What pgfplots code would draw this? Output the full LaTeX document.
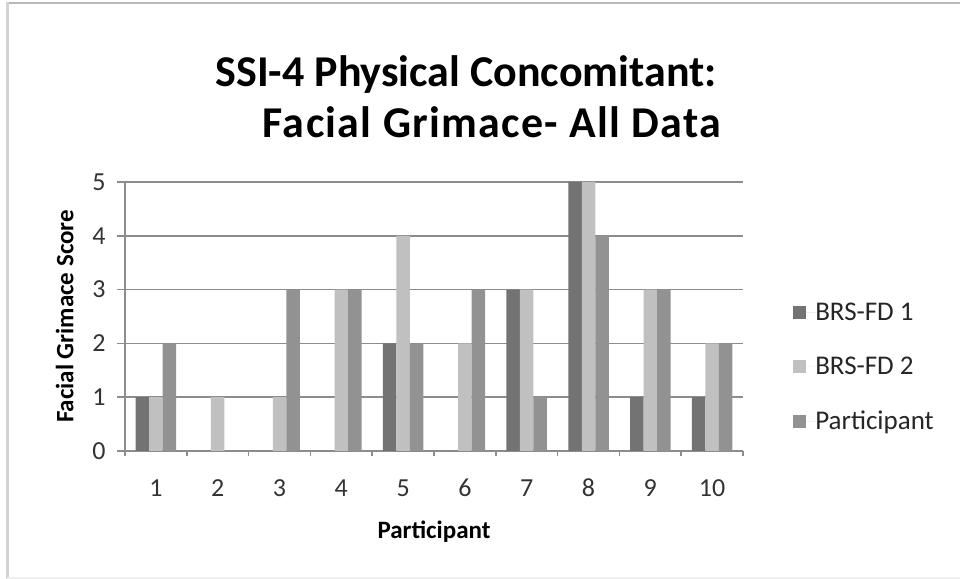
\documentclass[border=0pt]{standalone}
\usepackage{pgfplots}
\pgfplotsset{compat=1.18}
\usepackage{fontspec}
\setmainfont{Carlito}
\definecolor{cA}{HTML}{737373}
\definecolor{cB}{HTML}{C0C0C0}
\definecolor{cC}{HTML}{929292}
\definecolor{gridc}{HTML}{8C8C8C}
\begin{document}
\begin{tikzpicture}[x=1bp,y=1bp]
\useasboundingbox (0,0) rectangle (960,579);
\draw[gray!55, line width=2bp] (7,576) -- (960,576);
\draw[gray!35, line width=3bp] (7,0) -- (7,577);
\draw[gray!12, line width=1.5bp] (7,1) -- (960,1);
\node[font=\fontsize{44bp}{50bp}\selectfont\bfseries] at (466,504) {SSI-4 Physical Concomitant:};
\node[font=\fontsize{44bp}{50bp}\selectfont\bfseries\addfontfeatures{LetterSpace=3}] at (492,457) {Facial Grimace- All Data};
\begin{axis}[
  at={(125bp,128bp)}, anchor=south west,
  scale only axis, width=618bp, height=269bp,
  xmin=0.5, xmax=10.5, ymin=0, ymax=5,
  axis lines*=left,
  axis line style={gridc, line width=1.5bp},
  ybar=0pt, bar width=13.5bp,
  xtick={1,...,10},
  minor xtick={0.5,1.5,...,10.5},
  major x tick style={draw=none},
  minor x tick style={gridc, line width=1.5bp},
  ytick={0,...,5},
  y tick style={gridc, line width=1.5bp},
  tick align=outside,
  major tick length=8bp, minor tick length=5bp,
  ymajorgrids, grid style={gridc, line width=1.5bp},
  tick label style={font=\fontsize{26bp}{30bp}\selectfont, text=black!80},
  /pgf/number format/assume math mode=true,
  xticklabel style={text height=17bp, text depth=0bp, yshift=-17bp},
  yticklabel style={xshift=-8bp},
  xlabel={\bfseries Participant},
  ylabel={\bfseries Facial Grimace Score},
  label style={font=\fontsize{25bp}{30bp}\selectfont},
  xlabel style={yshift=-18bp},
  ylabel style={yshift=12bp},
  legend style={at={(1.081,0.312)}, anchor=west, draw=none,
    font=\fontsize{27bp}{32bp}\selectfont, text=black!85,
    row sep=35bp, inner sep=0pt, nodes={inner sep=0pt}},
  legend image code/.code={\fill[#1] (0bp,-6.5bp) rectangle (13bp,6.5bp); \path (0bp,0bp) -- (22bp,0bp);},
  legend cell align=left,
]
\addplot[fill=cA, draw=none] coordinates {(1,1) (2,0) (3,0) (4,0) (5,2) (6,0) (7,3) (8,5) (9,1) (10,1)};
\addplot[fill=cB, draw=none] coordinates {(1,1) (2,1) (3,1) (4,3) (5,4) (6,2) (7,3) (8,5) (9,3) (10,2)};
\addplot[fill=cC, draw=none] coordinates {(1,2) (2,0) (3,3) (4,3) (5,2) (6,3) (7,1) (8,4) (9,3) (10,2)};
\legend{BRS-FD 1, BRS-FD 2, Participant}
\end{axis}
\end{tikzpicture}
\end{document}
